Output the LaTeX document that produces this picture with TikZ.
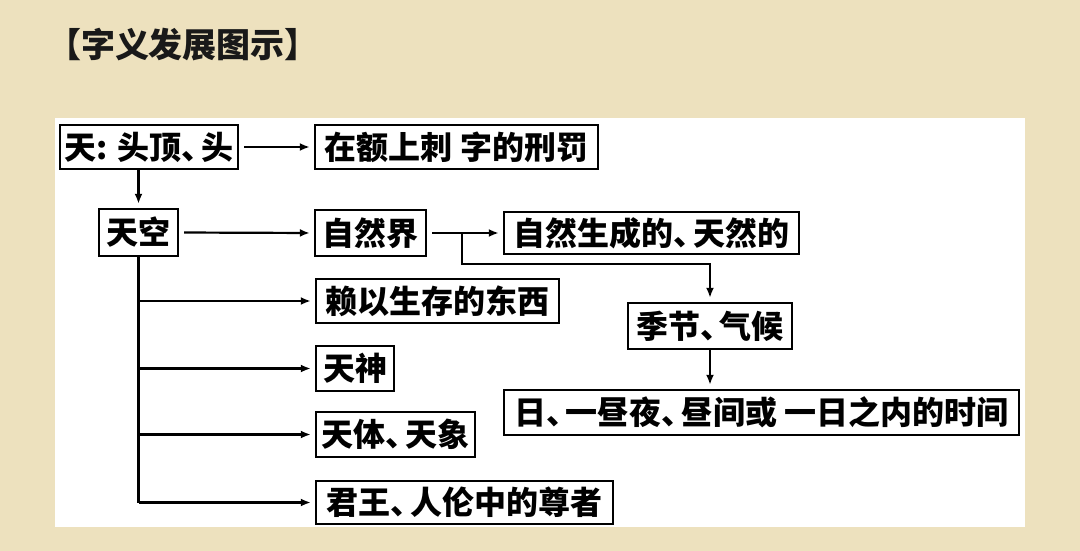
\documentclass[tikz,border=0pt]{standalone}
\usepackage{fontspec}
\newfontfamily\cjk{Noto Sans CJK SC}
\usetikzlibrary{arrows.meta,calc}
\definecolor{bgbeige}{RGB}{237,225,190}
\newcommand\dunhao{\makebox[0.6em][l]{、}}
\begin{document}
\begin{tikzpicture}[x=1pt,y=-1pt,
  box/.style={draw=black,line width=2.4pt,fill=white,inner sep=0pt,
    font=\cjk\bfseries\fontsize{32}{32}\selectfont},
  arr/.style={line width=2.2pt,-{Latex[length=10pt,width=8pt]},shorten >=4pt},
  ln/.style={line width=2.2pt}]
\useasboundingbox (0,0) rectangle (1080,551);
\fill[bgbeige] (0,0) rectangle (1080,551);
\fill[white] (55,118) rectangle (1025,527);
\node[font=\cjk\bfseries\fontsize{34}{34}\selectfont,text=black!90] (title) at (183,45) {【字义发展图示】};
\node[box,minimum width=178pt,minimum height=44pt] (b1) at (149,147) {天: 头顶\dunhao 头};
\node[box,minimum width=283pt,minimum height=44pt] (b2) at (456.5,147) {在额上刺 字的刑罚};
\node[box,minimum width=79pt,minimum height=47pt] (tk) at (138.5,232.5) {天空};
\node[box,minimum width=111pt,minimum height=46pt] (zrj) at (370.5,233) {自然界};
\node[box,minimum width=295pt,minimum height=42pt] (zrs) at (651.5,233) {自然生成的\dunhao 天然的};
\node[box,minimum width=243pt,minimum height=44pt] (ly) at (437.5,301) {赖以生存的东西};
\node[box,minimum width=164pt,minimum height=46pt] (jj) at (710,326) {季节\dunhao 气候};
\node[box,minimum width=78pt,minimum height=45pt] (ts) at (355,368.5) {天神};
\node[box,minimum width=515pt,minimum height=45pt] (ri) at (761.5,412.5) {日\dunhao 一昼夜\dunhao 昼间或 一日之内的时间};
\node[box,minimum width=159pt,minimum height=45pt] (tt) at (395.5,434.5) {天体\dunhao 天象};
\node[box,minimum width=297pt,minimum height=43pt] (jw) at (464.5,502.5) {君王\dunhao 人伦中的尊者};
% connectors
\draw[arr,shorten <=5pt] (b1.east) -- (b2.west);
\draw[arr] (tk.north |- b1.south) -- (tk.north);
\draw[arr,shorten <=5pt] (tk.east) -- (zrj.west);
\draw[arr,shorten <=5pt] (zrj.east) -- (zrs.west);
\coordinate (br) at ($(zrj.east)!0.46!(zrs.west)$);
\draw[arr] (br) -- ++(0,31) -| (jj.north);
\draw[arr] (jj.south) -- (jj.south |- ri.north);
\draw[ln] (tk.south) -- (tk.south |- jw.west);
\draw[arr] (tk.south |- ly.west) -- (ly.west);
\draw[arr] (tk.south |- ts.west) -- (ts.west);
\draw[arr] (tk.south |- tt.west) -- (tt.west);
\draw[arr] (tk.south |- jw.west) -- (jw.west);
\end{tikzpicture}
\end{document}
